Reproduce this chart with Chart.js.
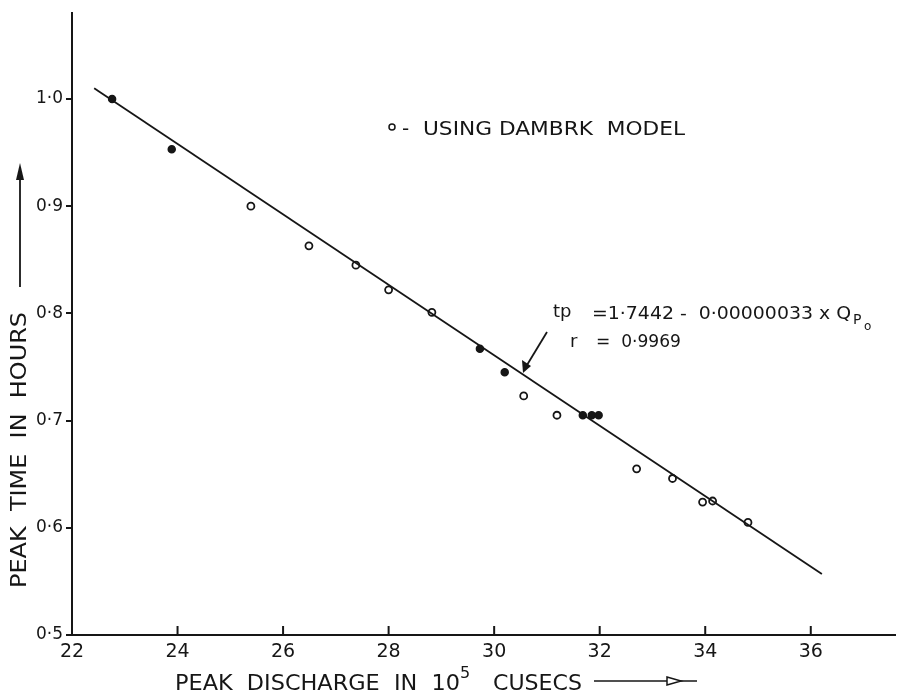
<!DOCTYPE html>
<html>
<head>
<meta charset="utf-8">
<script src="https://cdn.jsdelivr.net/npm/chart.js@4.4.0/dist/chart.umd.min.js"></script>
<style>
    html, body { margin: 0; padding: 0; background: #fff; }
    #wrap { width: 901px; height: 697px; }
</style>
</head>
<body>
<div id="wrap"><canvas id="peakChart" width="901" height="697"></canvas></div>
<script>
// Peak discharge (10^5 cusecs) against peak time (hours)
const solidQ = [22.76, 23.89, 29.73, 30.20, 31.68, 31.85, 31.98];
const solidT = [1.000, 0.953, 0.767, 0.745, 0.705, 0.705, 0.705];
const openQ = [25.39, 26.49, 27.38, 28.00, 28.82, 30.56, 31.19, 32.70, 33.38, 33.95, 34.14, 34.81];
const openT = [0.900, 0.863, 0.845, 0.822, 0.801, 0.723, 0.705, 0.655, 0.646, 0.624, 0.625, 0.605];
// ends of the fitted line as drawn
const fitQ = [22.42, 36.21];
const fitT = [1.010, 0.557];
const xTicks = [22, 24, 26, 28, 30, 32, 34, 36];
const yTicks = [0.5, 0.6, 0.7, 0.8, 0.9, 1.0];

const ink = '#161616';
const fontName = '"DejaVu Sans", sans-serif';

const toPoints = (xs, ys) => xs.map((x, i) => ({ x: x, y: ys[i] }));

// stretch or squeeze a text so it runs from x0 to x1
function fitText(ctx, text, x0, x1, y) {
    const w = ctx.measureText(text).width;
    ctx.save();
    ctx.translate(x0, y);
    ctx.scale((x1 - x0) / w, 1);
    ctx.fillText(text, 0, 0);
    ctx.restore();
}

// axis titles, equation and the little legend are drawn by hand
const extras = {
    id: 'extras',
    afterDraw(chart) {
        const ctx = chart.ctx;
        const xs = chart.scales.x;
        const ys = chart.scales.y;
        ctx.save();
        ctx.strokeStyle = ink;
        ctx.fillStyle = ink;
        ctx.lineWidth = 2;
        ctx.textAlign = 'left';
        ctx.textBaseline = 'alphabetic';

        // x ticks point up into the plot
        xTicks.slice(1).forEach(v => {
            const px = xs.getPixelForValue(v);
            ctx.beginPath();
            ctx.moveTo(px, ys.bottom);
            ctx.lineTo(px, ys.bottom - 9);
            ctx.stroke();
        });

        // legend
        ctx.lineWidth = 1.5;
        ctx.beginPath();
        ctx.arc(392, 127, 3, 0, Math.PI * 2);
        ctx.stroke();
        ctx.font = '20px ' + fontName;
        ctx.fillText('-', 402, 135);
        fitText(ctx, 'USING DAMBRK  MODEL', 423, 685, 135);

        // equation
        ctx.font = '18px ' + fontName;
        ctx.fillText('tp', 553, 317);
        fitText(ctx, '=1·7442 -  0·00000033 x Q', 592, 851, 319);
        ctx.font = '14px ' + fontName;
        ctx.fillText('P', 853, 324);
        ctx.font = '12px ' + fontName;
        ctx.fillText('o', 864, 330);
        ctx.font = '18px ' + fontName;
        ctx.fillText('r', 570, 347);
        fitText(ctx, '=  0·9969', 596, 681, 347);

        // arrow to the line
        ctx.lineWidth = 1.8;
        ctx.beginPath();
        ctx.moveTo(547, 332);
        ctx.lineTo(527, 365);
        ctx.stroke();
        ctx.beginPath();
        ctx.moveTo(523, 373);
        ctx.lineTo(522, 360);
        ctx.lineTo(531, 366);
        ctx.closePath();
        ctx.fill();

        // x axis title
        ctx.font = '22px ' + fontName;
        const base = 690;
        fitText(ctx, 'PEAK  DISCHARGE  IN  10', 175, 460, base);
        fitText(ctx, 'CUSECS', 493, 582, base);
        ctx.font = '16px ' + fontName;
        ctx.fillText('5', 460, base - 12);
        ctx.lineWidth = 1.5;
        ctx.beginPath();
        ctx.moveTo(594, 681);
        ctx.lineTo(697, 681);
        ctx.stroke();
        ctx.fillStyle = '#fff';
        ctx.beginPath();
        ctx.moveTo(667, 677);
        ctx.lineTo(681, 681);
        ctx.lineTo(667, 685);
        ctx.closePath();
        ctx.fill();
        ctx.stroke();
        ctx.fillStyle = ink;

        // y axis title, rotated (x in the rotated frame is minus the page y)
        ctx.save();
        ctx.translate(26, 0);
        ctx.rotate(-Math.PI / 2);
        ctx.font = '21px ' + fontName;
        fitText(ctx, 'PEAK  TIME  IN  HOURS', -588, -312, 0);
        ctx.restore();
        ctx.lineWidth = 1.8;
        ctx.beginPath();
        ctx.moveTo(20, 287);
        ctx.lineTo(20, 175);
        ctx.stroke();
        ctx.beginPath();
        ctx.moveTo(20, 163);
        ctx.lineTo(16, 180);
        ctx.lineTo(24, 180);
        ctx.closePath();
        ctx.fill();

        ctx.restore();
    }
};

const ctx = document.getElementById('peakChart').getContext('2d');
new Chart(ctx, {
    type: 'scatter',
    data: {
        datasets: [
            {
                type: 'line',
                label: 'fit',
                data: toPoints(fitQ, fitT),
                borderColor: ink,
                borderWidth: 1.8,
                pointRadius: 0,
                fill: false
            },
            {
                label: 'solid',
                data: toPoints(solidQ, solidT),
                pointRadius: 3.5,
                pointBorderWidth: 1.5,
                pointBorderColor: ink,
                pointBackgroundColor: ink
            },
            {
                label: 'open',
                data: toPoints(openQ, openT),
                pointRadius: 3.5,
                pointBorderWidth: 1.8,
                pointBorderColor: ink,
                pointBackgroundColor: '#fff'
            }
        ]
    },
    options: {
        responsive: false,
        animation: false,
        layout: { padding: { top: 9, right: 0, left: 0, bottom: 0 } },
        plugins: {
            legend: { display: false },
            tooltip: { enabled: false }
        },
        scales: {
            x: {
                type: 'linear',
                min: 22,
                max: 37.6,
                afterBuildTicks: scale => { scale.ticks = xTicks.map(v => ({ value: v })); },
                afterFit: scale => { scale.height = 62; },
                ticks: {
                    color: ink,
                    padding: 6,
                    maxRotation: 0,
                    font: { family: fontName, size: 19 },
                    callback: v => String(v)
                },
                grid: { display: true, drawOnChartArea: false, drawTicks: false },
                border: { display: true, color: ink, width: 2 }
            },
            y: {
                min: 0.5,
                max: 1.08,
                afterBuildTicks: scale => { scale.ticks = yTicks.map(v => ({ value: v })); },
                afterFit: scale => { scale.width = 72; },
                ticks: {
                    color: ink,
                    padding: 3,
                    font: { family: fontName, size: 17 },
                    callback: v => Number(v).toFixed(1).replace('.', '·')
                },
                grid: { display: true, drawOnChartArea: false, drawTicks: true, tickLength: 6, color: ink, lineWidth: 2 },
                border: { display: true, color: ink, width: 2 }
            }
        }
    },
    plugins: [extras]
});
</script>
</body>
</html>
